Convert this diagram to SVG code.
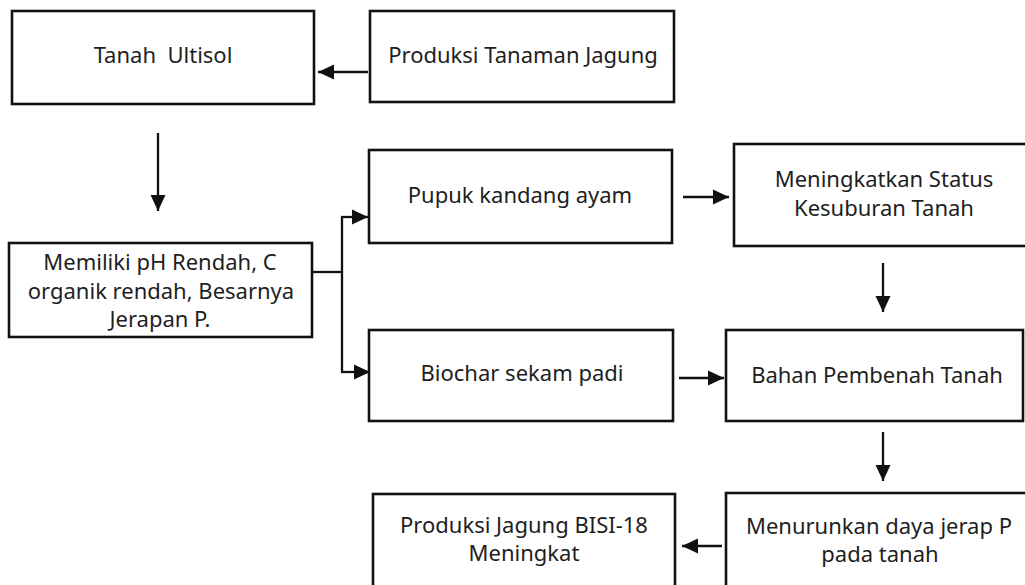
<svg xmlns="http://www.w3.org/2000/svg" width="1025" height="585" viewBox="0 0 1025 585">
<style>
.box{fill:#fff;stroke:#111;stroke-width:2.6}
.t{font-family:"Noto Sans","Liberation Sans",sans-serif;font-size:22px;fill:#1e1e1e;text-anchor:middle}
.c{fill:none;stroke:#111;stroke-width:2.3}
</style>
<defs>
<marker id="ah" markerUnits="userSpaceOnUse" markerWidth="17" markerHeight="16" refX="16" refY="8" orient="auto">
<path d="M0,0.5 L16,8 L0,15.5 z" fill="#111"/>
</marker>
</defs>
<rect width="1025" height="585" fill="#fff"/>
<g id="n1"><rect class="box" x="12" y="11" width="302" height="93"/><text class="t" x="163" y="63" xml:space="preserve">Tanah  Ultisol</text></g>
<g id="n2"><rect class="box" x="370" y="11" width="304" height="91"/><text class="t" x="523" y="63">Produksi Tanaman Jagung</text></g>
<g id="n3"><rect class="box" x="9" y="243" width="303" height="94"/>
<text class="t" x="160" y="270">Memiliki pH Rendah, C</text>
<text class="t" x="161" y="298.5">organik rendah, Besarnya</text>
<text class="t" x="160" y="327">Jerapan P.</text></g>
<g id="n4"><rect class="box" x="369" y="150" width="303" height="93"/><text class="t" x="520" y="203">Pupuk kandang ayam</text></g>
<g id="n5"><rect class="box" x="734" y="144" width="300" height="102"/>
<text class="t" x="884" y="187">Meningkatkan Status</text>
<text class="t" x="884" y="216">Kesuburan Tanah</text></g>
<g id="n6"><rect class="box" x="369" y="330" width="304" height="91"/><text class="t" x="522" y="381">Biochar sekam padi</text></g>
<g id="n7"><rect class="box" x="726" y="330" width="297" height="91"/><text class="t" x="877" y="383">Bahan Pembenah Tanah</text></g>
<g id="n8"><rect class="box" x="373" y="494" width="302" height="100"/>
<text class="t" x="524" y="533">Produksi Jagung BISI-18</text>
<text class="t" x="524" y="561">Meningkat</text></g>
<g id="n9"><rect class="box" x="726" y="493" width="310" height="100"/>
<text class="t" x="879" y="534">Menurunkan daya jerap P</text>
<text class="t" x="880" y="562">pada tanah</text></g>
<g id="connectors">
<line class="c" x1="368" y1="72" x2="318" y2="72" marker-end="url(#ah)"/>
<line class="c" x1="158" y1="133" x2="158" y2="211" marker-end="url(#ah)"/>
<polyline class="c" points="312,272 342,272"/>
<polyline class="c" points="342,217 342,372"/>
<line class="c" x1="341" y1="217" x2="368" y2="217" marker-end="url(#ah)"/>
<line class="c" x1="341" y1="372" x2="370" y2="372" marker-end="url(#ah)"/>
<line class="c" x1="683" y1="197" x2="729" y2="197" marker-end="url(#ah)"/>
<line class="c" x1="883" y1="263" x2="883" y2="312" marker-end="url(#ah)"/>
<line class="c" x1="679" y1="378" x2="724" y2="378" marker-end="url(#ah)"/>
<line class="c" x1="883" y1="432" x2="883" y2="481" marker-end="url(#ah)"/>
<line class="c" x1="722" y1="546" x2="682" y2="546" marker-end="url(#ah)"/>
</g>
</svg>
